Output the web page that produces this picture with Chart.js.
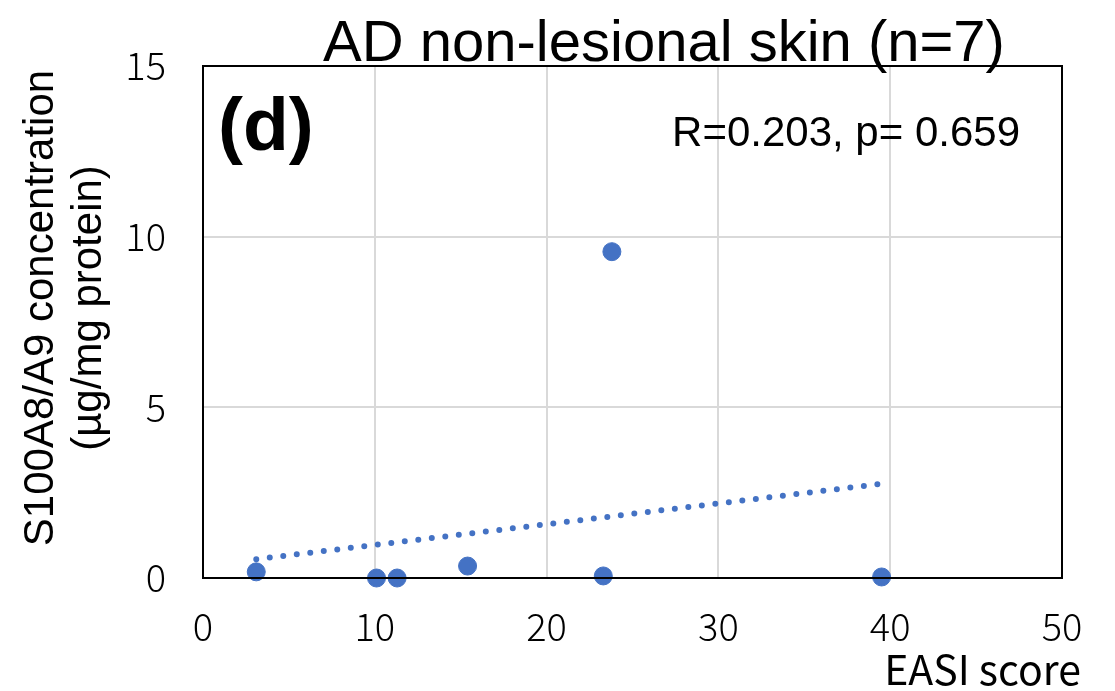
<!DOCTYPE html>
<html>
<head>
<meta charset="utf-8">
<script src="https://cdn.jsdelivr.net/npm/chart.js@4"></script>
<style>
  html, body { margin: 0; padding: 0; background: #fff; }
  #wrap { width: 1115px; height: 691px; position: relative; }
</style>
</head>
<body>
<div id="wrap"><canvas id="chart"></canvas></div>
<script>
/* -------------------------------------------------- */
/* Data                            */
/* -------------------------------------------------- */

const EASI_SCORES   = [3.1, 10.1, 11.3, 15.4, 23.3, 23.8, 39.5];
const S100_CONC     = [0.18, 0.0, 0.0, 0.35, 0.06, 9.56, 0.03];
const TREND_X       = [3.1, 39.5];
const TREND_Y       = [0.55, 2.76];
const X_TICKS       = [0, 10, 20, 30, 40, 50];
const Y_TICKS       = [0, 5, 10, 15];

const TITLE_TEXT  = 'AD non-lesional skin (n=7)';
const PANEL_TEXT  = '(d)';
const STATS_TEXT  = 'R=0.203, p= 0.659';
const Y_TITLE     = ['S100A8/A9 concentration', '(\u00b5g/mg protein)'];
const X_TITLE     = 'EASI score';

const BLUE = '#4472c4';
const TICK_FONT = "'Noto Sans CJK JP', 'Noto Sans', sans-serif";
const TEXT_FONT = "'Liberation Sans', Arial, sans-serif";

/* -------------------------------------------------- */
/* Overlay text + frame                                */
/* -------------------------------------------------- */

const decorations = {
  id: 'decorations',
  afterDraw(chart) {
    const { ctx, chartArea: a } = chart;
    ctx.save();

    // black frame round the plot area
    ctx.strokeStyle = '#000';
    ctx.lineWidth = 2;
    ctx.strokeRect(a.left, a.top, a.right - a.left, a.bottom - a.top);

    ctx.fillStyle = '#000';
    ctx.textBaseline = 'alphabetic';

    ctx.font = `58px ${TEXT_FONT}`;
    ctx.textAlign = 'center';
    ctx.fillText(TITLE_TEXT, 664, 61);

    ctx.font = `bold 75px ${TEXT_FONT}`;
    ctx.textAlign = 'left';
    ctx.fillText(PANEL_TEXT, 218, 150);

    ctx.font = `42px ${TEXT_FONT}`;
    ctx.textAlign = 'right';
    ctx.fillText(STATS_TEXT, 1020, 146);

    ctx.font = `41px ${TICK_FONT}`;
    ctx.textAlign = 'right';
    ctx.fillText(X_TITLE, 1081, 685);

    // rotated y title, two lines
    ctx.translate(0, 308);
    ctx.rotate(-Math.PI / 2);
    ctx.font = `42px ${TEXT_FONT}`;
    ctx.textAlign = 'center';
    ctx.fillText(Y_TITLE[0], 0, 53);
    ctx.fillText(Y_TITLE[1], 0, 101);

    ctx.restore();
  },
};

/* -------------------------------------------------- */
/* Chart                                               */
/* -------------------------------------------------- */

const points = EASI_SCORES.map((x, i) => ({ x, y: S100_CONC[i] }));
const trend  = TREND_X.map((x, i) => ({ x, y: TREND_Y[i] }));

new Chart(document.getElementById('chart'), {
  type: 'scatter',
  data: {
    datasets: [
      {
        type: 'line',
        data: trend,
        borderColor: BLUE,
        borderWidth: 6,
        borderDash: [0, 13.6],
        borderCapStyle: 'round',
        pointRadius: 0,
        fill: false,
        clip: false,
        order: 2,
      },
      {
        data: points,
        backgroundColor: BLUE,
        borderColor: BLUE,
        pointRadius: 9,
        pointHoverRadius: 9,
        clip: false,
        order: 1,
      },
    ],
  },
  plugins: [decorations],
  options: {
    responsive: true,
    maintainAspectRatio: false,
    animation: false,
    layout: { padding: { top: 66, right: 53, left: 0, bottom: 0 } },
    plugins: {
      legend: { display: false },
      tooltip: { enabled: false },
    },
    scales: {
      x: {
        type: 'linear',
        min: 0,
        max: 50,
        afterBuildTicks: s => { s.ticks = X_TICKS.map(v => ({ value: v })); },
        afterFit: s => { s.height = 113; },
        grid: { color: '#d9d9d9', lineWidth: 2, drawTicks: false },
        border: { display: false },
        ticks: {
          color: '#000',
          padding: 26,
          font: { family: TICK_FONT, size: 38, weight: 300 },
          maxRotation: 0,
        },
      },
      y: {
        type: 'linear',
        min: 0,
        max: 15,
        afterBuildTicks: s => { s.ticks = Y_TICKS.map(v => ({ value: v })); },
        afterFit: s => { s.width = 203; },
        grid: { color: '#d9d9d9', lineWidth: 2, drawTicks: false },
        border: { display: false },
        ticks: {
          color: '#000',
          padding: 37,
          font: { family: TICK_FONT, size: 38, weight: 300 },
        },
      },
    },
  },
});
</script>
</body>
</html>
